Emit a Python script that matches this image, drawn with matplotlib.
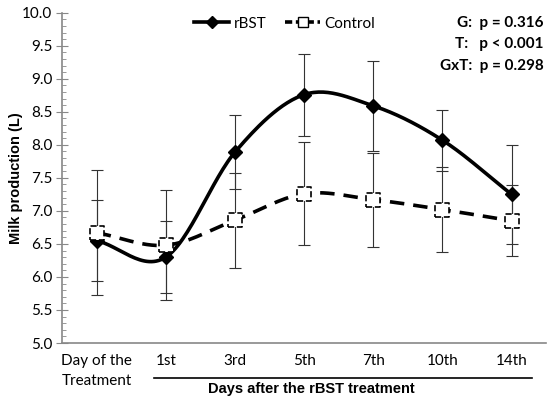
import matplotlib.pyplot as plt
import numpy as np
from matplotlib.lines import Line2D

days = ['Day of the\nTreatment', '1st', '3rd', '5th', '7th', '10th', '14th']
rbst = [6.55, 6.30, 7.89, 8.76, 8.59, 8.07, 7.25]
rbst_err = [0.61, 0.55, 0.56, 0.62, 0.68, 0.46, 0.75]
control = [6.67, 6.48, 6.86, 7.26, 7.17, 7.02, 6.85]
control_err = [0.95, 0.83, 0.72, 0.78, 0.71, 0.64, 0.54]
stats = ['G:  p = 0.316', 'T:   p < 0.001', 'GxT:  p = 0.298']


def smooth(x, y, n=30):
    # catmull-rom curve through the points, like excel's smoothed line
    x = np.asarray(x, float)
    y = np.asarray(y, float)
    px = np.concatenate([[2 * x[0] - x[1]], x, [2 * x[-1] - x[-2]]])
    py = np.concatenate([[2 * y[0] - y[1]], y, [2 * y[-1] - y[-2]]])
    xs, ys = [], []
    t = np.linspace(0, 1, n)
    for i in range(1, len(px) - 2):
        for p, out in ((px, xs), (py, ys)):
            p0, p1, p2, p3 = p[i - 1], p[i], p[i + 1], p[i + 2]
            out.extend(0.5 * (2 * p1 + (-p0 + p2) * t + (2 * p0 - 5 * p1 + 4 * p2 - p3) * t ** 2
                              + (-p0 + 3 * p1 - 3 * p2 + p3) * t ** 3))
    return xs, ys


plt.rcParams['font.family'] = ['Lato', 'DejaVu Sans']

fig = plt.figure(figsize=(5.5, 3.97), dpi=100)
ax = fig.add_axes([0.113, 0.136, 0.88, 0.832])
x = np.arange(len(days))

ax.errorbar(x, rbst, yerr=rbst_err, fmt='none', ecolor='#333333', elinewidth=0.8, capsize=4, capthick=0.8)
ax.errorbar(x, control, yerr=control_err, fmt='none', ecolor='#333333', elinewidth=0.8, capsize=4, capthick=0.8)

sx, sy = smooth(x, rbst)
ax.plot(sx, sy, color='black', lw=2.6, solid_capstyle='round', zorder=3)
ax.plot(x, rbst, 'D', color='black', ms=7, zorder=4)

sx, sy = smooth(x, control)
ax.plot(sx, sy, color='black', lw=2.6, ls=(0, (4, 2.5)), zorder=5)
ax.scatter(x, control, marker='s', s=100, facecolors='white', edgecolors='black',
           linewidths=1.2, linestyles='--', zorder=6)

ax.set_xlim(-0.5, len(days) - 0.5)
ax.set_ylim(5.0, 10.0)
ax.set_yticks(np.arange(5.0, 10.01, 0.5))
ax.set_yticks(np.arange(5.0, 10.01, 0.1), minor=True)
ax.yaxis.set_major_formatter(plt.FormatStrFormatter('%.1f'))
ax.tick_params(axis='y', which='major', direction='inout', length=8, color='#888888', labelsize=11, pad=3)
ax.tick_params(axis='y', which='minor', direction='in', length=3, color='#888888')
ax.set_xticks(x)
ax.set_xticklabels(days, fontsize=11)
ax.tick_params(axis='x', length=0, pad=8)
ax.get_xticklabels()[0].set_linespacing(1.5)

for s in ['top', 'right']:
    ax.spines[s].set_visible(False)
for s in ['left', 'bottom']:
    ax.spines[s].set_color('#888888')
    ax.spines[s].set_linewidth(1.2)

ax.set_ylabel('Milk production (L)', fontsize=10.5, fontweight='bold', family='Liberation Sans')
ax.yaxis.set_label_coords(-0.08, 0.5)

trans = ax.get_xaxis_transform()
ax.add_line(Line2D([0.83, 6.29], [-0.105, -0.105], transform=trans, color='black', lw=1.2, clip_on=False))
ax.text(3.1, -0.14, 'Days after the rBST treatment', transform=trans, ha='center', va='center',
        fontsize=10.5, fontweight='bold', family='Liberation Sans')

for i, s in enumerate(stats):
    ax.text(0.995, 0.99 - i * 0.065, s, transform=ax.transAxes, ha='right', va='top',
            fontsize=11, fontweight='bold')

handles = [Line2D([], [], color='black', lw=2.6, marker='D', ms=6),
           Line2D([], [], color='black', lw=2.6, ls=(0, (2, 1)), marker='s', ms=7, mfc='white', mec='black', mew=1)]
ax.legend(handles, ['rBST', 'Control'], loc='upper center', bbox_to_anchor=(0.46, 1.03), ncol=2,
          frameon=False, fontsize=11, handlelength=2.3, columnspacing=1.2, handletextpad=0.3)

fig.savefig('out.png', dpi=100)
